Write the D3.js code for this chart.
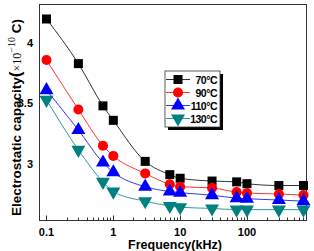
<!DOCTYPE html>
<html>
<head>
<meta charset="utf-8">
<script src="https://cdn.jsdelivr.net/npm/d3@7"></script>
<style>
	body { margin: 0; background: #fff; }
	text { font-family: "Liberation Sans", Arial, sans-serif; }
</style>
</head>
<body>
<svg id="chart" width="314" height="251"></svg>
<script>

// frequencies in kHz
const freqs = [0.1, 0.3, 0.7, 1, 3, 7, 10, 30, 70, 100, 300, 700];

// capacity values (x10^-10 C)
const cap70 = [4.2, 3.83, 3.48, 3.36, 3.02, 2.91, 2.88, 2.857, 2.85, 2.835, 2.82, 2.82];
const cap90 = [3.86, 3.45, 3.15, 3.065, 2.92, 2.83, 2.81, 2.80, 2.765, 2.757, 2.75, 2.74];
const cap110 = [3.61, 3.28, 3.01, 2.93, 2.81, 2.77, 2.76, 2.74, 2.715, 2.71, 2.70, 2.69];
const cap130 = [3.53, 3.115, 2.85, 2.77, 2.69, 2.65, 2.64, 2.63, 2.62, 2.62, 2.62, 2.62];

const seriesNames = ["70°C", "90°C", "110°C", "130°C"];
const seriesColors = ["#000000", "#ff0000", "#0000ff", "#008080"];
const seriesShapes = [d3.symbolSquare, d3.symbolCircle, d3.symbolTriangle, "down"];

const xTicks = [0.1, 1, 10, 100];
const xTickLabels = ["0.1", "1", "10", "100"];
const yTicks = [3, 3.5, 4];

const svg = d3.select("#chart");

const plotL = 39.5, plotR = 306.5, plotT = 4.5, plotB = 220.5;

const x = d3.scaleLog().domain([0.0786, 777]).range([plotL, plotR]);
const y = d3.scaleLinear().domain([2.53, 4.32]).range([plotB, plotT]);

// frame
svg.append("rect")
	.attr("x", plotL).attr("y", plotT)
	.attr("width", plotR - plotL).attr("height", plotB - plotT)
	.attr("fill", "none").attr("stroke", "#333").attr("stroke-width", 1);

// x ticks (inside)
const minor = [];
for (let d = 0.1; d < 1000; d *= 10) {
	for (let k = 1; k < 10; k++) {
		const v = d * k;
		if (v <= 777) minor.push(v);
	}
}
svg.append("g").selectAll("line")
	.data(minor)
	.enter().append("line")
	.attr("x1", d => Math.round(x(d)) + 0.5).attr("x2", d => Math.round(x(d)) + 0.5)
	.attr("y1", plotB)
	.attr("y2", d => xTicks.includes(+d.toPrecision(3)) ? plotB - 5 : plotB - 3)
	.attr("stroke", "#333");

svg.append("g").selectAll("text")
	.data(xTicks)
	.enter().append("text")
	.attr("x", d => x(d))
	.attr("y", 236)
	.attr("text-anchor", "middle")
	.attr("font-size", 11)
	.attr("font-weight", "bold")
	.text((d, i) => xTickLabels[i]);

// y ticks
svg.append("g").selectAll("text")
	.data(yTicks)
	.enter().append("text")
	.attr("x", 33)
	.attr("y", d => y(d) + 4)
	.attr("text-anchor", "end")
	.attr("font-size", 11)
	.attr("font-weight", "bold")
	.text(d => d);

// axis titles
svg.append("text")
	.attr("x", 175).attr("y", 249)
	.attr("text-anchor", "middle")
	.attr("font-size", 12.5)
	.attr("font-weight", "bold")
	.text("Frequency(kHz)");

const yTitle = svg.append("text")
	.attr("transform", "translate(21,216) rotate(-90)")
	.attr("text-anchor", "start")
	.attr("font-size", 13.5)
	.attr("font-weight", "bold");
yTitle.append("tspan").text("Electrostatic capacity");
yTitle.append("tspan").attr("font-size", 17).text("(");
yTitle.append("tspan").attr("font-weight", "normal").attr("font-family", "Liberation Serif, serif").attr("font-size", 12).text("×10");
yTitle.append("tspan").attr("font-weight", "normal").attr("font-family", "Liberation Serif, serif").attr("font-size", 10).attr("dy", -6).text("−10");
yTitle.append("tspan").attr("dy", 6).text(" C)");

// markers
function symbolPath(shape, size) {
	if (shape === "down") {
		return d3.symbol().type(d3.symbolTriangle).size(size)();
	}
	return d3.symbol().type(shape).size(size)();
}

const allSeries = [cap70, cap90, cap110, cap130];
const sizes = [81, 80, 85, 85];

const line = d3.line()
	.x(d => x(d[0]))
	.y(d => y(d[1]))
	.curve(d3.curveMonotoneX);

allSeries.forEach((vals, i) => {
	const pts = freqs.map((f, j) => [f, vals[j]]);
	svg.append("path")
		.datum(pts)
		.attr("d", line)
		.attr("fill", "none")
		.attr("stroke", seriesColors[i])
		.attr("stroke-width", 0.8);
});

allSeries.forEach((vals, i) => {
	const pts = freqs.map((f, j) => [f, vals[j]]);
	svg.append("g").selectAll("path")
		.data(pts)
		.enter().append("path")
		.attr("d", symbolPath(seriesShapes[i], sizes[i]))
		.attr("transform", d => "translate(" + x(d[0]) + "," + y(d[1]) + ")" + (seriesShapes[i] === "down" ? " rotate(180)" : ""))
		.attr("fill", seriesColors[i]);
});

// legend
const lg = svg.append("g").attr("transform", "translate(165,71)");
lg.append("rect").attr("x", 3).attr("y", 3).attr("width", 55).attr("height", 56).attr("fill", "#000");
lg.append("rect").attr("x", 0).attr("y", 0).attr("width", 55).attr("height", 56)
	.attr("fill", "#fff").attr("stroke", "#333").attr("stroke-width", 0.8);
seriesNames.forEach((name, i) => {
	const ry = 8.5 + i * 13;
	lg.append("line").attr("x1", 1).attr("x2", 25).attr("y1", ry).attr("y2", ry)
		.attr("stroke", seriesColors[i]).attr("stroke-width", 0.8);
	lg.append("path")
		.attr("d", symbolPath(seriesShapes[i], sizes[i]))
		.attr("transform", "translate(13," + ry + ")" + (seriesShapes[i] === "down" ? " rotate(180)" : ""))
		.attr("fill", seriesColors[i]);
	lg.append("text").attr("x", 52).attr("y", ry + 4)
		.attr("text-anchor", "end")
		.attr("font-size", 10.5)
		.attr("font-weight", "bold")
		.attr("letter-spacing", -0.5)
		.text(name);
});

</script>
</body>
</html>
